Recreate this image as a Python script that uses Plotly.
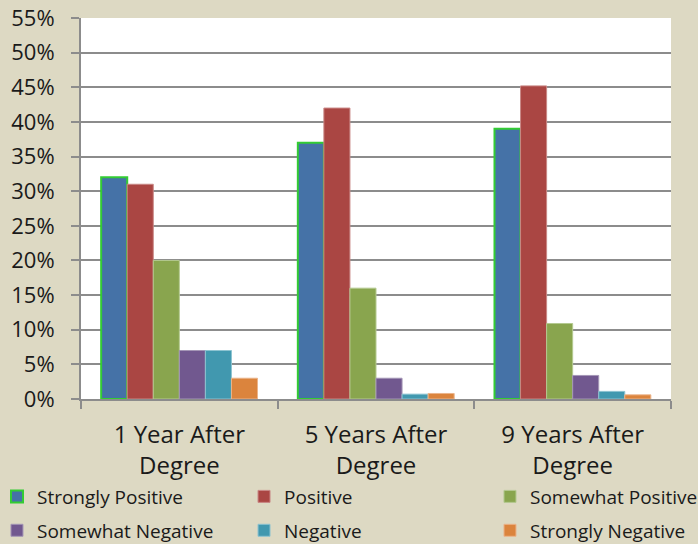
import plotly.graph_objects as go

categories = ["1 Year After<br>Degree", "5 Years After<br>Degree", "9 Years After<br>Degree"]
series_names = ["Strongly Positive", "Positive", "Somewhat Positive",
                "Somewhat Negative", "Negative", "Strongly Negative"]
strongly_positive = [0.32, 0.37, 0.39]
positive = [0.31, 0.42, 0.452]
somewhat_positive = [0.20, 0.16, 0.109]
somewhat_negative = [0.07, 0.03, 0.034]
negative = [0.07, 0.007, 0.011]
strongly_negative = [0.03, 0.008, 0.006]
y_ticks = [i * 0.05 for i in range(12)]

series_values = [strongly_positive, positive, somewhat_positive,
                 somewhat_negative, negative, strongly_negative]
colors = ["#4572A7", "#AA4643", "#89A54E", "#71588F", "#4198AF", "#DB843D"]
outlines = ["#33CC33", "#C98886", "#B4C990", "#A496B6", "#8DC3D1", "#EBB48A"]

font_fam = "Open Sans, Lato, sans-serif"

# one legend per entry so the 3x2 grid can be placed like the original
leg_x = [-0.1424, 0.2763, 0.6932]
leg_y = [-0.256, -0.345]

fig = go.Figure()
legends = {}
for i, (name, vals, c, oc) in enumerate(zip(series_names, series_values, colors, outlines)):
    key = "legend" if i == 0 else f"legend{i + 1}"
    fig.add_trace(go.Bar(
        x=categories, y=vals, name=name,
        legend=key,
        marker=dict(color=c, line=dict(color=oc, width=2 if i == 0 else 1)),
    ))
    legends[key] = dict(
        orientation="h", xanchor="left", yanchor="middle",
        x=leg_x[i % 3], y=leg_y[i // 3],
        xref="paper", yref="paper",
        font=dict(size=19, family=font_fam, color="#1a1a1a"),
        itemwidth=30, bgcolor="rgba(0,0,0,0)",
    )

fig.update_layout(
    width=698, height=544,
    margin=dict(l=81, r=27, t=18, b=145, autoexpand=False),
    paper_bgcolor="#DDD9C3",
    plot_bgcolor="white",
    barmode="group",
    bargap=0.205,
    bargroupgap=0,
    font=dict(family=font_fam, color="#1a1a1a"),
    showlegend=True,
    xaxis=dict(
        automargin=False,
        showline=True, linecolor="#8c8c8c", linewidth=2,
        ticks="outside", tickson="boundaries", ticklen=8, tickcolor="#8c8c8c", tickwidth=2,
        tickfont=dict(size=24), ticklabelstandoff=13,
    ),
    yaxis=dict(
        automargin=False,
        range=[0, 0.55], tickvals=y_ticks, tickformat=".0%",
        showgrid=True, gridcolor="#8c8c8c", gridwidth=2,
        showline=True, linecolor="#8c8c8c", linewidth=2,
        ticks="outside", ticklen=8, tickcolor="#8c8c8c", tickwidth=2,
        tickfont=dict(size=22), zeroline=False, ticklabelstandoff=12,
    ),
    **legends,
)

fig.write_html("out.html", config={"displayModeBar": False},
               post_script="document.body.style.margin='0';")
